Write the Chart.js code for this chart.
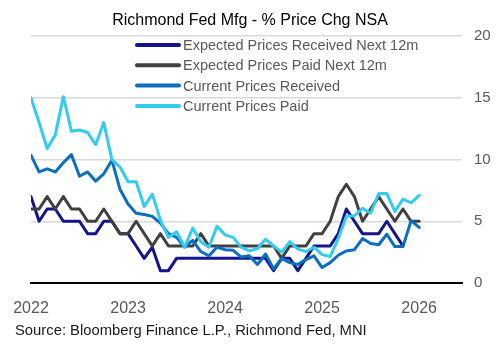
<!DOCTYPE html>
<html><head><meta charset="utf-8">
<script src="https://cdn.jsdelivr.net/npm/chart.js@4/dist/chart.umd.min.js"></script>
<style>html,body{margin:0;padding:0;background:#fff}#wrap{width:496px;height:346px;position:relative}</style>
</head><body><div id="wrap"><canvas id="c" width="496" height="346"></canvas></div>
<script>
// ---- data ----
const months = [
 '2022-01','2022-02','2022-03','2022-04','2022-05','2022-06','2022-07','2022-08','2022-09','2022-10','2022-11','2022-12',
 '2023-01','2023-02','2023-03','2023-04','2023-05','2023-06','2023-07','2023-08','2023-09','2023-10','2023-11','2023-12',
 '2024-01','2024-02','2024-03','2024-04','2024-05','2024-06','2024-07','2024-08','2024-09','2024-10','2024-11','2024-12',
 '2025-01','2025-02','2025-03','2025-04','2025-05','2025-06','2025-07','2025-08','2025-09','2025-10','2025-11','2025-12',
 '2026-01'
];
const yearTickLabels = ['2022','2023','2024','2025','2026'];
const yTickValues = [0,5,10,15,20];

const expPricesReceived = [7,5,6,6,5,5,5,4,4,5,5,4, 4,3,2,2.9,1,1,2,2,2,2,2,2, 2,2,2,2,2,2,1,2,2,1,2,3, 3,3,4,6,5,4,4,4,5,4,3,null, null];
const expPricesPaid     = [6,6,7,6,7,6,6,5,5,6,5,4, 4,5,4,3,4,3,3,3,3,4,3,3, 3,3,3,3,3,3,3,2,3,3,3,4, 4,5,7,8,7,5,6,7,6,5,6,5, 5];
const curPricesReceived = [10.35,9.0,9.25,9.0,9.75,10.4,8.65,9.0,8.25,8.85,9.95,7.6, 6.4,5.65,5.55,5.4,4.85,4.0,3.7,2.9,3.45,2.55,2.2,2.9, 2.7,2.65,2.1,2.2,1.5,2.35,1.15,2.0,1.65,1.5,1.9,2.2, 1.25,1.65,2.25,2.6,2.7,3.6,3.2,3.1,3.95,2.95,2.95,5.05, 4.5];
const curPricesPaid     = [15.0,13.0,10.9,12.0,15.1,12.3,12.4,12.2,11.2,13.0,10.0,9.4, 8.2,8.2,6.2,7.2,5.1,3.7,4.15,2.9,4.45,3.35,2.9,4.6, 3.9,3.7,2.9,2.6,2.8,3.55,3.0,2.5,3.35,2.75,2.55,2.9, 2.3,2.15,3.6,5.4,5.45,6.05,5.65,7.25,7.25,5.8,6.8,6.5, 7.1];

const seriesNames = ['Expected Prices Received Next 12m','Expected Prices Paid Next 12m','Current Prices Received','Current Prices Paid'];
const seriesValues = [expPricesReceived, expPricesPaid, curPricesReceived, curPricesPaid];
const seriesColors = ['#14148c','#404040','#0b6fbd','#33ccee'];

const titleText = 'Richmond Fed Mfg - % Price Chg NSA';
const sourceText = 'Source: Bloomberg Finance L.P., Richmond Fed, MNI';

const FONT = "'Liberation Sans', Arial, sans-serif";

// tick positions = index of each January
const yearTickIdx = months.map((m,i)=> m.endsWith('-01') ? i : null).filter(v=>v!==null);

const datasets = seriesValues.map((vals, s) => ({
  label: seriesNames[s],
  data: vals.map((v,i)=>({x:i, y:v})),
  borderColor: seriesColors[s],
  backgroundColor: seriesColors[s],
  borderWidth: 3,
  pointRadius: 0,
  tension: 0,
  borderJoinStyle: 'round',
  borderCapStyle: 'round',
  spanGaps: false,
  yAxisID: 'y',
  order: 4 - s
}));

const legendPlugin = {
  id: 'customLegend',
  afterDatasetsDraw(chart) {
    const ctx = chart.ctx;
    ctx.save();
    chart.data.datasets.forEach((ds, i) => {
      const y = 45 + i * 20.3;
      ctx.strokeStyle = ds.borderColor;
      ctx.lineWidth = 4;
      ctx.lineCap = 'round';
      ctx.beginPath(); ctx.moveTo(137, y); ctx.lineTo(179, y); ctx.stroke();
      ctx.fillStyle = '#595959';
      ctx.font = '14.5px ' + FONT;
      ctx.textBaseline = 'middle';
      ctx.textAlign = 'left';
      ctx.fillText(ds.label, 183, y + 1);
    });
    ctx.restore();
  }
};

const sourcePlugin = {
  id: 'sourceNote',
  afterDraw(chart) {
    const ctx = chart.ctx;
    ctx.save();
    ctx.fillStyle = '#1a1a1a';
    ctx.font = '14.8px ' + FONT;
    ctx.textBaseline = 'middle';
    ctx.textAlign = 'left';
    ctx.fillText(sourceText, 15, 331);
    ctx.restore();
  }
};

new Chart(document.getElementById('c'), {
  type: 'line',
  data: { datasets },
  options: {
    responsive: false,
    animation: false,
    devicePixelRatio: 1,
    layout: { padding: { left: 4, right: 0, top: 0, bottom: 26 } },
    plugins: {
      legend: { display: false },
      tooltip: { enabled: false },
      title: {
        display: true, text: titleText, color: '#000',
        font: { family: FONT, size: 16, weight: 'normal' },
        padding: { top: 11, bottom: 6 }
      }
    },
    scales: {
      x: {
        type: 'linear', min: 0, max: 53.3,
        afterBuildTicks: (s) => { s.ticks = yearTickIdx.map(v => ({ value: v })); },
        afterFit: (s) => { s.height = 37; },
        ticks: {
          autoSkip: false, maxRotation: 0, padding: 2,
          color: '#595959', font: { family: FONT, size: 16 },
          callback: (v) => { const k = yearTickIdx.indexOf(v); return k >= 0 ? yearTickLabels[k] : ''; }
        },
        grid: { display: false, drawTicks: true, tickLength: 14 },
        border: { display: true, color: '#000', width: 2 }
      },
      yl: {
        position: 'left', display: true,
        afterFit: (s) => { s.width = 27; },
        ticks: { display: false },
        grid: { display: false, drawTicks: false },
        border: { display: false }
      },
      y: {
        position: 'right', min: 0, max: 20,
        afterBuildTicks: (s) => { s.ticks = yTickValues.map(v => ({ value: v })); },
        afterFit: (s) => { s.width = 34; },
        ticks: { padding: 12, color: '#595959', font: { family: FONT, size: 15 } },
        grid: {
          drawTicks: false, lineWidth: 1.5,
          color: (c) => (c.tick && c.tick.value === 0) ? 'rgba(0,0,0,0)' : '#d9d9d9'
        },
        border: { display: false }
      }
    }
  },
  plugins: [legendPlugin, sourcePlugin]
});
</script>
</body></html>
